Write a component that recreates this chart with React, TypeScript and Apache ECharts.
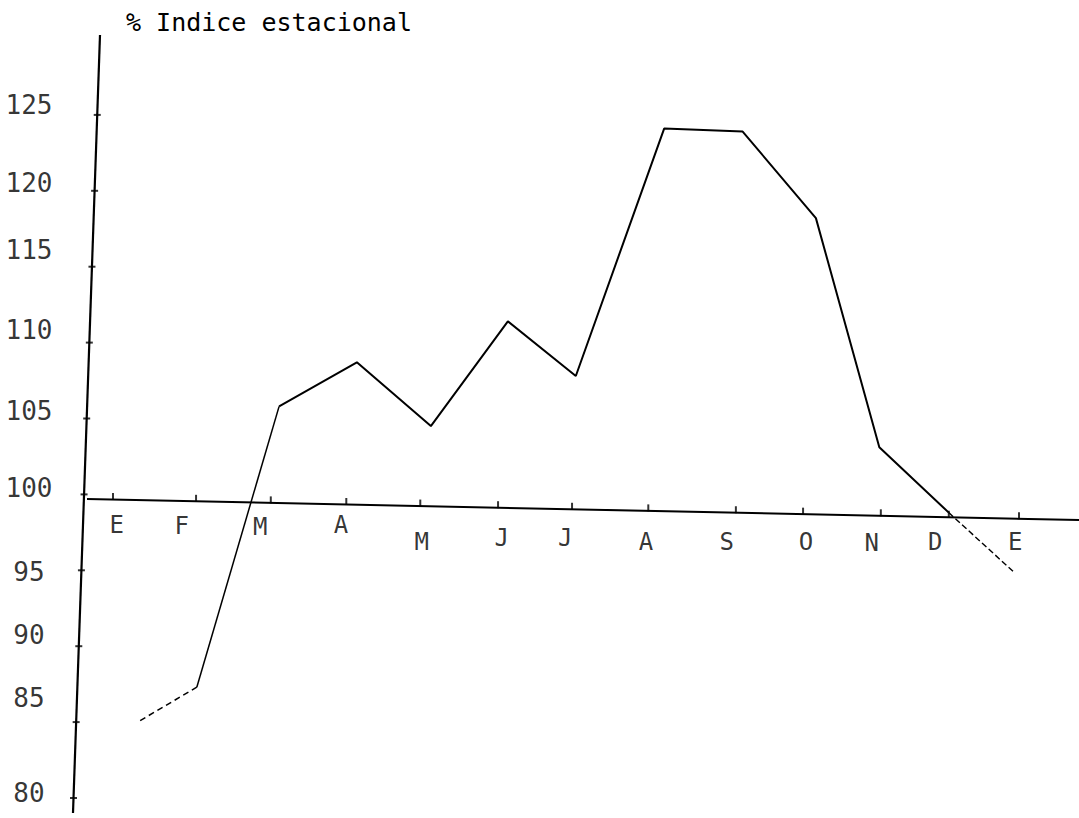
import React, { useEffect, useRef } from "react";
import * as echarts from "echarts";

// ---- Data ----
const titleText = "% Indice estacional";
const months = ["E", "F", "M", "A", "M", "J", "J", "A", "S", "O", "N", "D", "E"];
// hand-drawn positions of month ticks and labels (in month units, E = 1)
const monthTickPos = [1.0, 2.1, 3.09, 4.09, 5.07, 6.1, 7.08, 8.09, 9.25, 10.14, 11.17, 12.07, 13.0];
const monthLabelPos = [1.05, 1.91, 2.95, 4.02, 5.09, 6.15, 6.99, 8.06, 9.13, 10.18, 11.05, 11.89, 12.95];
// seasonal index curve
const pointMonth = [1.36, 2.11, 3.2, 4.23, 5.21, 6.23, 7.13, 8.3, 9.34, 10.31, 11.15, 12.07, 12.95];
const indexValues = [85.1, 87.3, 105.8, 108.7, 104.5, 111.4, 107.8, 124.1, 123.9, 118.2, 103.1, 98.8, 94.8];
const yTicks = [80, 85, 90, 95, 100, 105, 110, 115, 120, 125];

// ---- Layout calibration (pixels) ----
const W = 1079;
const H = 818;
const Y100 = 494.4; // px of value 100
const PX_PER_UNIT = 15.18;
const X_E = 113; // px of month 1
const PX_PER_MONTH = 75.5;
const pxToMonth = (px: number) => 1 + (px - X_E) / PX_PER_MONTH;
const pxToVal = (py: number) => 100 + (Y100 - py) / PX_PER_UNIT;

// tilted hand-drawn axes (endpoints in px)
const axisTop = { x: 100, y: 35 };
const axisBottom = { x: 73, y: 813 };
const baseLeft = { x: 87, y: 499 };
const baseRight = { x: 1079, y: 520 };

const yLabelNudge = [-5, -24, -11, 2, -6, -8, -13, -17, -8, -10];
const monthLabelNudge = [25, 25, 24, 21, 36, 30, 29, 31, 29, 28, 27, 25, 23];

const FONT = "'DejaVu Sans Mono', monospace";
const INK = "#000";

export default function App() {
  const ref = useRef<HTMLDivElement>(null);

  useEffect(() => {
    if (!ref.current) return;
    const chart = echarts.init(ref.current, undefined, { renderer: "svg" });

    const aT = [pxToMonth(axisTop.x), pxToVal(axisTop.y)];
    const aB = [pxToMonth(axisBottom.x), pxToVal(axisBottom.y)];
    const bL = [pxToMonth(baseLeft.x), pxToVal(baseLeft.y)];
    const bR = [pxToMonth(baseRight.x), pxToVal(baseRight.y)];
    const axisXAt = (v: number) => aB[0] + ((v - aB[1]) / (aT[1] - aB[1])) * (aT[0] - aB[0]);
    const baseAt = (m: number) => bL[1] + ((m - bL[0]) / (bR[0] - bL[0])) * (bR[1] - bL[1]);
    const labelX = pxToMonth(29);

    const pts = pointMonth.map((m, i) => [m, indexValues[i]]);
    const seg = (a: number, b: number, width: number, type: any) => ({
      type: "line",
      data: pts.slice(a, b + 1),
      symbol: "none",
      silent: true,
      clip: false,
      lineStyle: { color: INK, width, type },
      z: 5,
    });

    chart.setOption({
      animation: false,
      backgroundColor: "#ffffff",
      title: {
        text: titleText,
        left: 121,
        top: 5,
        textStyle: {
          fontFamily: FONT,
          fontSize: 25,
          fontWeight: "normal",
          color: INK,
        },
      },
      grid: { left: 0, right: 0, top: 0, bottom: 0 },
      xAxis: {
        type: "value",
        min: pxToMonth(0),
        max: pxToMonth(W),
        show: false,
      },
      yAxis: {
        type: "value",
        min: pxToVal(H),
        max: pxToVal(0),
        show: false,
      },
      series: [
        {
          type: "line",
          data: [aB, aT],
          symbol: "none",
          silent: true,
          clip: false,
          lineStyle: { color: INK, width: 2.2 },
        },
        {
          type: "line",
          data: [bL, bR],
          symbol: "none",
          silent: true,
          clip: false,
          lineStyle: { color: INK, width: 2 },
        },
        {
          type: "scatter",
          data: yTicks.map((v) => [axisXAt(v), v]),
          symbol: "rect",
          symbolSize: [7, 2],
          itemStyle: { color: INK },
          silent: true,
          clip: false,
        },
        {
          type: "scatter",
          data: yTicks.map((v, i) => ({
            value: [labelX, v],
            label: { offset: [0, yLabelNudge[i]] },
          })),
          symbolSize: 0,
          silent: true,
          clip: false,
          label: {
            show: true,
            position: "inside",
            formatter: (p: any) => String(p.value[1]),
            fontFamily: FONT,
            fontSize: 26,
            color: INK,
          },
        },
        {
          type: "scatter",
          data: monthTickPos.map((m) => [m, baseAt(m)]),
          symbol: "rect",
          symbolSize: [2, 7],
          symbolOffset: [0, -3],
          itemStyle: { color: INK },
          silent: true,
          clip: false,
        },
        {
          type: "scatter",
          data: monthLabelPos.map((m, i) => ({
            value: [m, baseAt(m)],
            name: months[i],
            label: { offset: [0, monthLabelNudge[i]] },
          })),
          symbolSize: 0,
          silent: true,
          clip: false,
          label: {
            show: true,
            position: "inside",
            formatter: "{b}",
            fontFamily: FONT,
            fontSize: 24,
            color: INK,
          },
        },
        seg(0, 1, 1.5, [6, 4]),
        seg(1, 2, 1.5, "solid"),
        seg(2, 11, 2, "solid"),
        seg(11, 12, 1.4, [6, 3]),
      ],
    });

    return () => chart.dispose();
  }, []);

  return (
    <div
      ref={ref}
      style={{ position: "absolute", left: 0, top: 0, width: W, height: H, background: "#fff" }}
    />
  );
}
